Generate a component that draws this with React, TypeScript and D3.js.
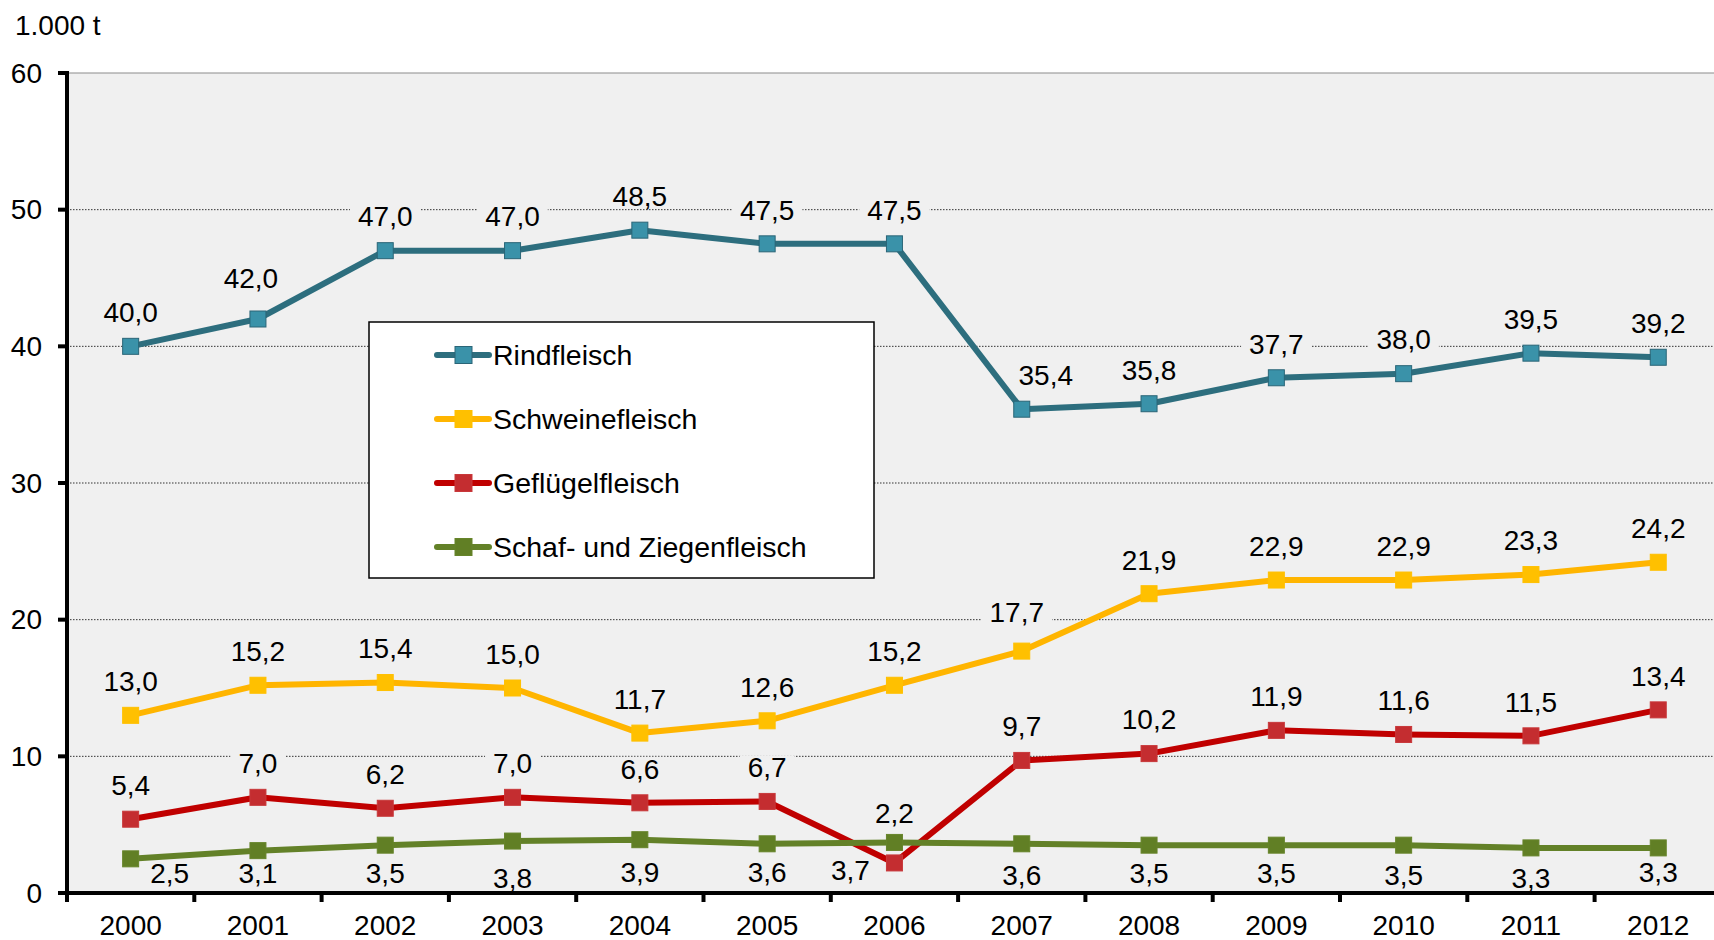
import React from 'react';
import * as d3 from 'd3';

const width = 1714;
const height = 940;

const years = ['2000', '2001', '2002', '2003', '2004', '2005', '2006', '2007', '2008', '2009', '2010', '2011', '2012'];
const rindfleisch = [40.0, 42.0, 47.0, 47.0, 48.5, 47.5, 47.5, 35.4, 35.8, 37.7, 38.0, 39.5, 39.2];
const schweinefleisch = [13.0, 15.2, 15.4, 15.0, 11.7, 12.6, 15.2, 17.7, 21.9, 22.9, 22.9, 23.3, 24.2];
const gefluegelfleisch = [5.4, 7.0, 6.2, 7.0, 6.6, 6.7, 2.2, 9.7, 10.2, 11.9, 11.6, 11.5, 13.4];
const schafZiegenfleisch = [2.5, 3.1, 3.5, 3.8, 3.9, 3.6, 3.7, 3.6, 3.5, 3.5, 3.5, 3.3, 3.3];
const yTicks = [0, 10, 20, 30, 40, 50, 60];
const unitLabel = '1.000 t';

const series = [
  { name: 'Rindfleisch', values: rindfleisch, line: '#2D6E7E', fill: '#3A92A9', stroke: '#2A6577', below: false },
  { name: 'Schweinefleisch', values: schweinefleisch, line: '#FFB500', fill: '#FFC000', stroke: '#FFC000', below: false },
  { name: 'Geflügelfleisch', values: gefluegelfleisch, line: '#C00000', fill: '#C42D30', stroke: '#C8383A', below: false },
  { name: 'Schaf- und Ziegenfleisch', values: schafZiegenfleisch, line: '#638128', fill: '#617F25', stroke: '#66842A', below: true },
];

// hand-moved data labels in the original (dx, dy relative to the default spot)
const labelNudge: Record<string, [number, number]> = {
  'Rindfleisch-2001': [-7, -7],
  'Rindfleisch-2007': [24, 0],
  'Schweinefleisch-2007': [-5, -5],
  'Geflügelfleisch-2006': [0, -16],
  'Schaf- und Ziegenfleisch-2000': [39, -14],
  'Schaf- und Ziegenfleisch-2001': [0, -5],
  'Schaf- und Ziegenfleisch-2003': [0, 9],
  'Schaf- und Ziegenfleisch-2004': [0, 4],
  'Schaf- und Ziegenfleisch-2006': [-44, 0],
  'Schaf- und Ziegenfleisch-2007': [0, 3],
  'Schaf- und Ziegenfleisch-2010': [0, 2],
  'Schaf- und Ziegenfleisch-2011': [0, 2],
  'Schaf- und Ziegenfleisch-2012': [0, -4],
};

const font = "Arial, 'Liberation Sans', sans-serif";
const fontSize = 28;

const fmt = (v: number) => v.toFixed(1).replace('.', ',');
const textWidth = (s: string) =>
  s.split('').reduce((w, c) => w + (c === ',' || c === '.' ? 0.278 : 0.556), 0) * fontSize;

export default function App() {
  const left = 67;
  const top = 73;
  const bottom = 893;

  const x = d3.scaleBand<string>().domain(years).range([left, left + 13 * 127.3]);
  const y = d3.scaleLinear().domain([0, 60]).range([bottom, top]);
  const cx = (yr: string) => (x(yr) as number) + x.bandwidth() / 2;

  const line = d3
    .line<number>()
    .x((_, i) => cx(years[i]))
    .y((d) => y(d));

  const labels = series.flatMap((s) =>
    s.values.map((v, i) => {
      const nudge = labelNudge[`${s.name}-${years[i]}`] || [0, 0];
      return {
        key: `${s.name}-${i}`,
        text: fmt(v),
        x: cx(years[i]) + nudge[0],
        y: y(v) + (s.below ? 28 : -34) + nudge[1],
      };
    })
  );

  return (
    <div style={{ position: 'absolute', left: 0, top: 0 }}>
      <svg width={width} height={height} style={{ display: 'block', fontFamily: font }}>
        <rect x={0} y={0} width={width} height={height} fill="#fff" />
        <rect x={left} y={top} width={width - left} height={bottom - top} fill="#F0F0F0" />

        {/* gridlines */}
        {yTicks.filter((t) => t > 0 && t < 60).map((t) => (
          <line key={t} x1={left} x2={width} y1={y(t)} y2={y(t)} stroke="#333" strokeWidth={1} strokeDasharray="1.5,1.5" />
        ))}
        <line x1={left} x2={width} y1={y(60)} y2={y(60)} stroke="#8C8C8C" strokeWidth={1.2} />

        <text x={15} y={35} fontSize={fontSize} fill="#000">{unitLabel}</text>

        {/* y axis */}
        <line x1={left} x2={left} y1={y(60) - 2} y2={bottom + 2} stroke="#000" strokeWidth={4} />
        {yTicks.map((t) => (
          <g key={t}>
            <line x1={left - 9} x2={left} y1={y(t)} y2={y(t)} stroke="#000" strokeWidth={4} />
            <text x={42} y={y(t)} dy="0.35em" textAnchor="end" fontSize={fontSize} fill="#000">{t}</text>
          </g>
        ))}

        {/* x axis */}
        <line x1={left - 9} x2={width} y1={bottom} y2={bottom} stroke="#000" strokeWidth={4} />
        {years.map((yr) => (
          <g key={yr}>
            <line x1={x(yr) as number} x2={x(yr) as number} y1={bottom} y2={bottom + 9} stroke="#000" strokeWidth={4} />
            <text x={cx(yr)} y={935} textAnchor="middle" fontSize={fontSize} fill="#000">{yr}</text>
          </g>
        ))}

        {/* label backgrounds hide the gridlines */}
        {labels.map((l) => (
          <rect key={l.key} x={l.x - textWidth(l.text) / 2 - 8} y={l.y - 12} width={textWidth(l.text) + 16} height={24} fill="#F0F0F0" />
        ))}

        {/* lines + markers */}
        {series.map((s) => (
          <g key={s.name}>
            <path d={line(s.values) || ''} fill="none" stroke={s.line} strokeWidth={6} strokeLinejoin="round" />
            {s.values.map((v, i) => (
              <rect key={i} x={cx(years[i]) - 8} y={y(v) - 8} width={16} height={16} fill={s.fill} stroke={s.stroke} strokeWidth={1} />
            ))}
          </g>
        ))}

        {labels.map((l) => (
          <text key={l.key} x={l.x} y={l.y} dy="0.35em" textAnchor="middle" fontSize={fontSize} fill="#000">{l.text}</text>
        ))}

        {/* legend */}
        <g transform="translate(369,322)">
          <rect x={0} y={0} width={505} height={256} fill="#fff" stroke="#000" strokeWidth={1.5} />
          {series.map((s, i) => {
            const ly = 33 + i * 64;
            return (
              <g key={s.name}>
                <line x1={68} x2={120} y1={ly} y2={ly} stroke={s.line} strokeWidth={6} strokeLinecap="round" />
                <rect x={86} y={ly - 8.5} width={17} height={17} fill={s.fill} stroke={s.stroke} strokeWidth={1} />
                <text x={124} y={ly} dy="0.35em" fontSize={28.5} fill="#000">{s.name}</text>
              </g>
            );
          })}
        </g>
      </svg>
    </div>
  );
}
